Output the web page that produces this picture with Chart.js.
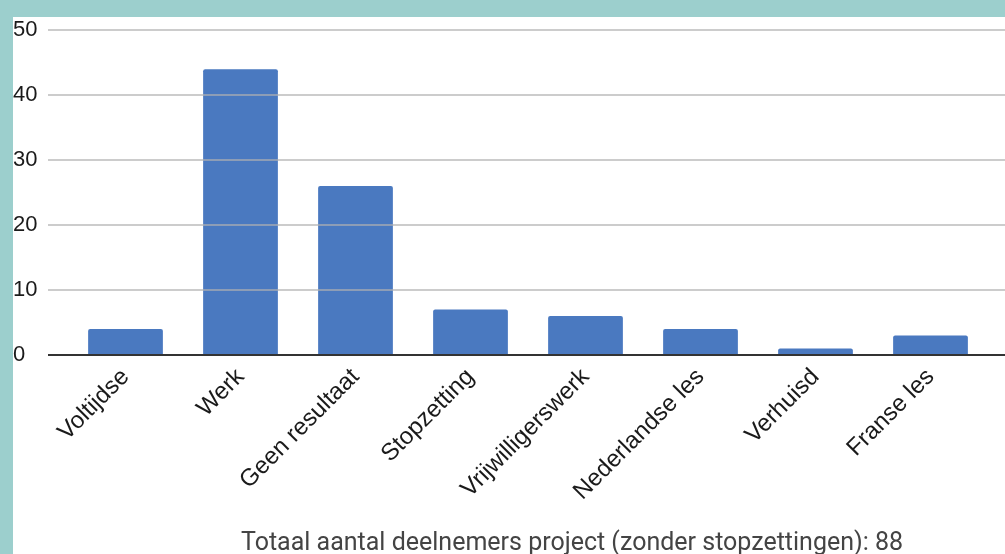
<!DOCTYPE html>
<html>
<head>
<meta charset="utf-8">
<script src="https://cdn.jsdelivr.net/npm/chart.js@4.4.0/dist/chart.umd.min.js"></script>
<style>
  html, body { margin: 0; padding: 0; background: #9ccfcd; width: 1005px; height: 554px; overflow: hidden; }
  #wrap { position: absolute; left: 13px; top: 17px; width: 992px; height: 537px; background: #fff; }
</style>
</head>
<body>
<div id="wrap"><canvas id="resultChart" width="992" height="537"></canvas></div>
<script>
// data
const categories = ['Voltijdse', 'Werk', 'Geen resultaat', 'Stopzetting', 'Vrijwilligerswerk', 'Nederlandse les', 'Verhuisd', 'Franse les'];
const counts = [4, 44, 26, 7, 6, 4, 1, 3];
const yTicks = [0, 10, 20, 30, 40, 50];
const footerText = 'Totaal aantal deelnemers project (zonder stopzettingen): 88';

const ctx = document.getElementById('resultChart').getContext('2d');

// gridlines run past the plot on both sides and sit over the bars
const gridPlugin = {
    id: 'gridOver',
    afterDatasetsDraw(chart) {
        const { ctx, scales: { y } } = chart;
        ctx.save();
        ctx.lineWidth = 2;
        y.ticks.forEach(t => {
            const py = Math.round(y.getPixelForValue(t.value));
            ctx.strokeStyle = t.value === 0 ? '#333333' : 'rgba(176,176,176,0.65)';
            ctx.beginPath();
            ctx.moveTo(35, py);
            ctx.lineTo(chart.width, py);
            ctx.stroke();
        });
        ctx.restore();
    }
};

const footerPlugin = {
    id: 'footerText',
    afterDraw(chart) {
        const { ctx } = chart;
        ctx.save();
        ctx.font = '25px Roboto, sans-serif';
        ctx.fillStyle = '#444444';
        ctx.textAlign = 'center';
        ctx.textBaseline = 'middle';
        ctx.fillText(footerText, 559, 527);
        ctx.restore();
    }
};

new Chart(ctx, {
    type: 'bar',
    data: {
        labels: categories,
        datasets: [{
            data: counts,
            backgroundColor: '#4a79c0',
            borderRadius: 2,
            borderSkipped: 'bottom',
            barPercentage: 0.65,
            categoryPercentage: 1
        }]
    },
    options: {
        responsive: false,
        animation: false,
        layout: { padding: { top: 8, right: 17, left: 0, bottom: 0 } },
        plugins: {
            legend: { display: false },
            tooltip: { enabled: false }
        },
        scales: {
            x: {
                grid: { display: false },
                border: { display: false },
                ticks: {
                    color: '#1a1a1a',
                    font: { family: '"Liberation Sans", Arial', size: 24 },
                    minRotation: 45,
                    maxRotation: 45,
                    autoSkip: false,
                    padding: 0
                },
                afterFit(scale) { scale.height = 199; }
            },
            y: {
                min: 0,
                max: 50,
                afterBuildTicks(scale) { scale.ticks = yTicks.map(v => ({ value: v })); },
                grid: { display: false },
                border: { display: false },
                ticks: {
                    color: '#1a1a1a',
                    font: { family: '"Liberation Sans", Arial', size: 22 },
                    crossAlign: 'far',
                    padding: 0
                },
                afterFit(scale) { scale.width = 55; }
            }
        }
    },
    plugins: [gridPlugin, footerPlugin]
});
</script>
</body>
</html>
